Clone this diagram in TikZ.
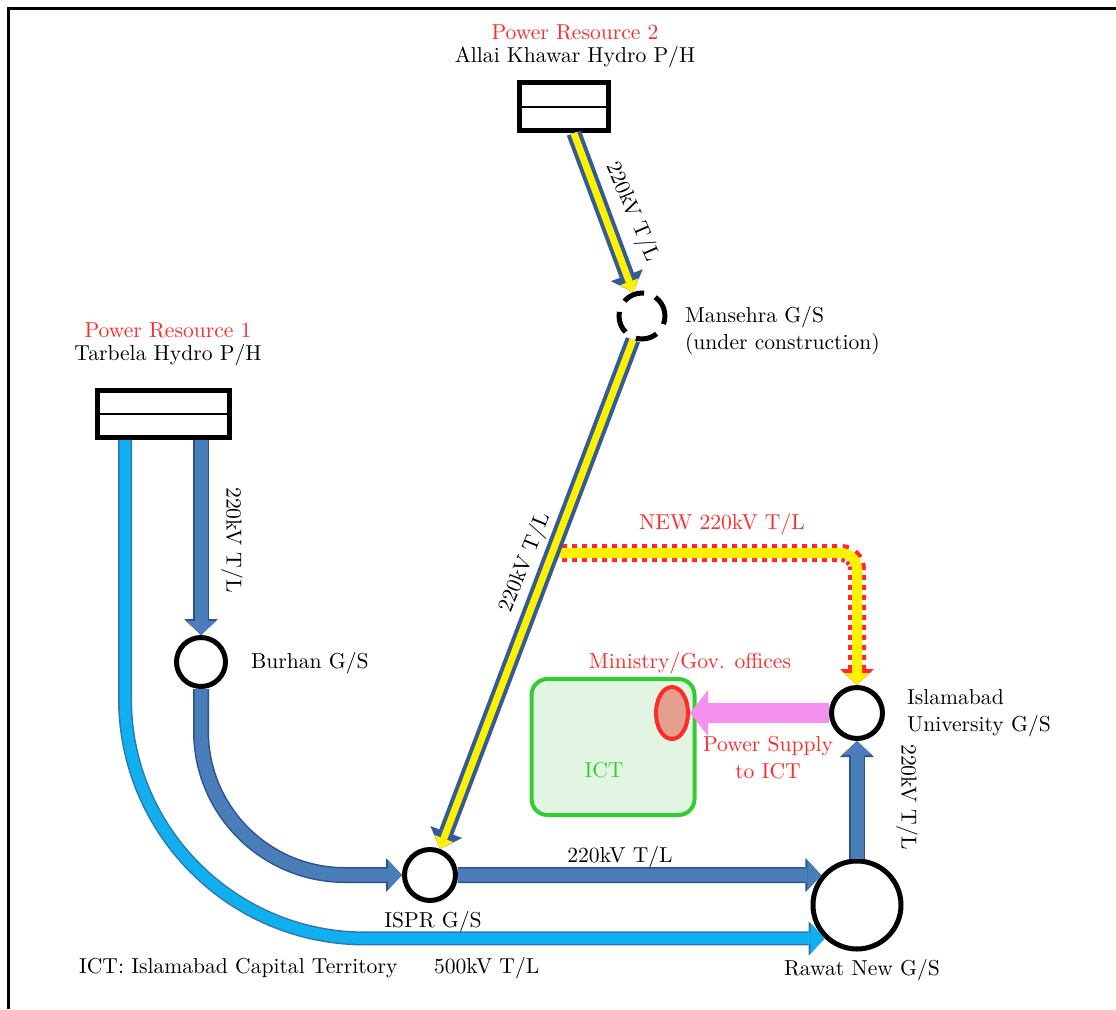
\documentclass[tikz,border=0pt]{standalone}
\usetikzlibrary{arrows.meta,shapes.geometric}
\definecolor{tlfill}{HTML}{4A7EBB}
\definecolor{tledge}{HTML}{2F528F}
\definecolor{hvfill}{HTML}{10B0EF}
\definecolor{hvedge}{HTML}{2E75B6}
\definecolor{labred}{HTML}{FF2A2A}
\definecolor{ictgreen}{HTML}{33CC33}
\definecolor{ictfill}{HTML}{E2F5E2}
\definecolor{offfill}{HTML}{E4A08C}
\definecolor{supply}{HTML}{F490F0}
\tikzset{
	gs/.style={circle, draw, fill=white, line width=2.5pt, inner sep=0pt},
	ph/.style={rectangle, draw, fill=white, line width=2.5pt, inner sep=0pt},
	tlarrow/.style={draw=tlfill, line width=6.5pt, -{Triangle[length=7pt, width=15pt, line width=0pt]},
		preaction={draw=tledge, line width=8pt, -{Triangle[length=8pt, width=17pt, line width=0pt]}}},
	hvarrow/.style={draw=hvfill, line width=5.5pt, -{Triangle[length=7pt, width=15pt, line width=0pt]},
		preaction={draw=hvedge, line width=7pt, -{Triangle[length=8pt, width=17pt, line width=0pt]}}},
	ytlarrow/.style={draw=yellow, line width=3.5pt, -{Triangle[length=5.5pt, width=10pt, line width=0pt]},
		preaction={draw=tledge!80!tlfill, line width=7.5pt, -{Triangle[length=9pt, width=17pt, line width=0pt]}}},
	newtl/.style={draw=yellow, line width=5pt, -{Triangle[length=6pt, width=12pt, line width=0pt]},
		preaction={draw=labred, line width=9pt, dash pattern=on 2.5pt off 2.5pt, -{Triangle[length=8pt, width=17pt, line width=0pt]}}},
	supplyarrow/.style={draw=supply, line width=10pt, -{Triangle[length=9pt, width=23pt, line width=0pt]}},
	redtxt/.style={text=labred}
}
\begin{document}
\begin{tikzpicture}[x=0.5pt, y=-0.5pt, every node/.style={font=\fontsize{10.8}{13.5}\selectfont}]
\useasboundingbox (0,0) rectangle (1116,1009);
\draw[line width=1.5pt] (8,1009) -- (8,8) -- (1116,8);

% power houses
\node[ph, minimum width=66pt, minimum height=23.5pt] (tarbela) at (163.5,414) {};
\node[ph, minimum width=44.5pt, minimum height=24pt] (allai) at (564,106.5) {};
\foreach \p in {tarbela, allai}
{
	\draw[line width=1pt] (\p.west) -- (\p.east);
}
\node[redtxt] at (168,330) {Power Resource 1};
\node at (168,355) {Tarbela Hydro P/H};
\node[redtxt] at (575,32) {Power Resource 2};
\node at (575,57) {Allai Khawar Hydro P/H};

% grid stations
\foreach \nm/\xx/\yy/\dd in {burhan/201/662/24.5, ispr/430/875/25.5, univ/857/713/25.5, rawat/857/905/44}
{
	\node[gs, minimum size=\dd pt] (\nm) at (\xx,\yy) {};
}
\node[gs, dash pattern=on 11pt off 6pt, minimum size=23pt] (mansehra) at (642,316) {};
\node[anchor=west] at (244,663) {Burhan G/S};
\node at (433,922) {ISPR G/S};
\node at (862,970) {Rawat New G/S};
\node[anchor=west, align=left] at (678,331) {Mansehra G/S\\(under construction)};
\node[anchor=west, align=left] at (900,713) {Islamabad\\University G/S};

% ICT area
\node[draw=ictgreen, fill=ictfill, line width=2pt, rounded corners=8pt, minimum width=81.5pt, minimum height=68pt] (ict) at (613,747) {};
\node[text=ictgreen] at (604,770) {ICT};
\node[ellipse, draw=labred, fill=offfill, line width=2pt, minimum width=16pt, minimum height=26pt, inner sep=0pt] (office) at (672,713) {};
\node[redtxt] at (690,663) {Ministry/Gov. offices};
\node[redtxt, align=center] at (768,758) {Power Supply\\to ICT};

% lines
\coordinate (tap) at (552,553);
\draw[newtl, rounded corners=8pt] (tap) -| (univ);
\draw[ytlarrow] (allai) -- (mansehra);
\draw[ytlarrow] (mansehra) -- (ispr);
\draw[hvarrow, rounded corners=120pt] ([xshift=15pt]tarbela.south west) |- (rawat.226);
\draw[tlarrow] ([xshift=-15.5pt]tarbela.south east) -- (burhan);
\draw[tlarrow, rounded corners=72pt] (burhan) |- (ispr);
\draw[tlarrow] (ispr) -- (rawat.140);
\draw[tlarrow] (rawat) -- (univ);
\draw[supplyarrow] (univ) -- (office);

% line labels
\node[rotate=-66.6] at (632,212) {220kV T/L};
\node[rotate=68] at (525,563) {220kV T/L};
\node[rotate=-90] at (232,540) {220kV T/L};
\node[rotate=-90] at (907,797) {220kV T/L};
\node at (620,857) {220kV T/L};
\node[redtxt] at (722,524) {NEW 220kV T/L};
\node[anchor=west] at (72,968) {ICT: Islamabad Capital Territory};
\node[anchor=west] at (427,968) {500kV T/L};
\end{tikzpicture}
\end{document}
